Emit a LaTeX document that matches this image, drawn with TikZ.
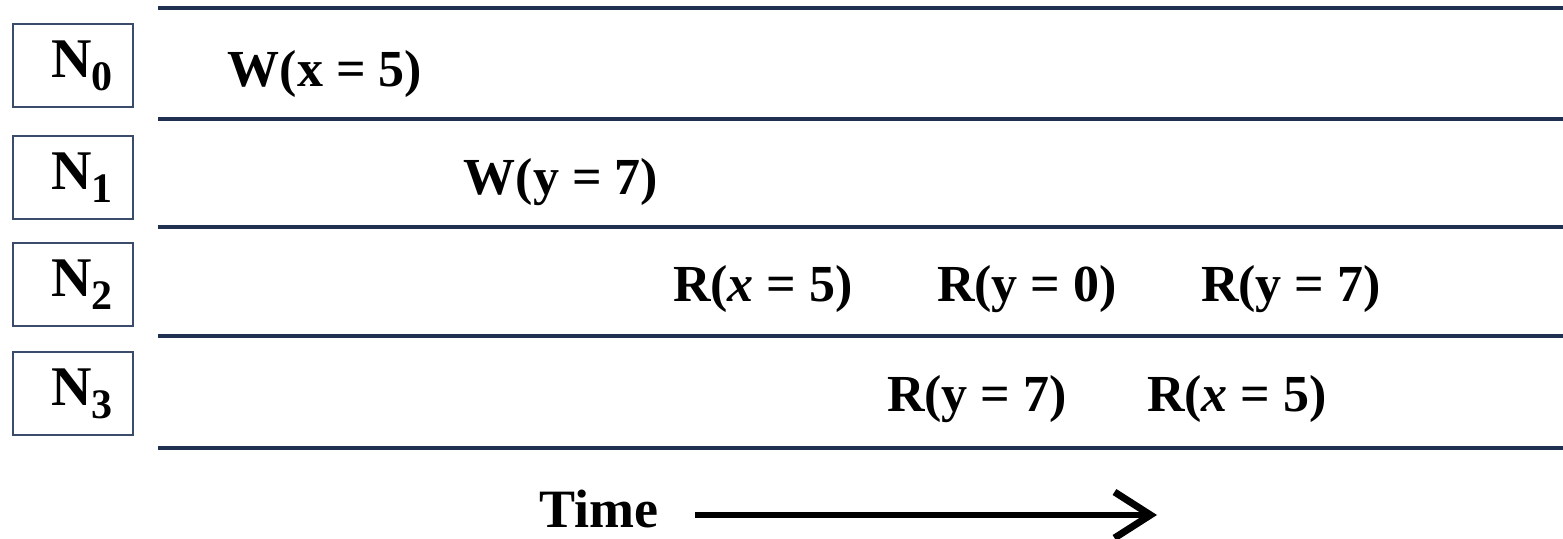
\documentclass[tikz,border=0pt]{standalone}
\usepackage{fontspec}
\setmainfont{Liberation Serif}
\usetikzlibrary{arrows.meta}
\definecolor{navy}{HTML}{1F3050}
\definecolor{boxc}{HTML}{3B4B6B}
\newcommand\nsub[1]{\raisebox{-6.5pt}{\fontsize{21}{21}\selectfont #1}}
\begin{document}
\begin{tikzpicture}[x=0.5pt,y=-0.5pt,
  tl/.style={draw=navy, line width=2pt},
  nbox/.style={draw=boxc, line width=0.8pt, minimum width=60pt, minimum height=41.5pt, inner sep=0pt, font=\bfseries\fontsize{28}{30}\selectfont},
  op/.style={anchor=base, inner sep=0pt, font=\bfseries\fontsize{26}{28}\selectfont}]
\useasboundingbox (0,0) rectangle (1563,539);
% timeline separators
\foreach \i/\y in {0/8,1/119,2/227,3/336,4/448}{
  \coordinate (la\i) at (158,\y);
  \coordinate (lb\i) at (1563,\y);
  \draw[tl] (la\i) -- (lb\i);
}
% node boxes
\node[nbox] (n0) at (73,65.5) {\hspace{9pt}N\nsub{0}};
\node[nbox] (n1) at (73,177.5) {\hspace{9pt}N\nsub{1}};
\node[nbox] (n2) at (73,284.5) {\hspace{9pt}N\nsub{2}};
\node[nbox] (n3) at (73,393.5) {\hspace{9pt}N\nsub{3}};
% operations
\node[op] (w0) at (325,87) {W(x = 5)};
\node[op] (w1) at (561,195) {W(y = 7)};
\node[op] (r21) at (763,302) {R(\textit{x} = 5)};
\node[op] (r22) at (1027,302) {R(y = 0)};
\node[op] (r23) at (1291,302) {R(y = 7)};
\node[op] (r31) at (977,412) {R(y = 7)};
\node[op] (r32) at (1237,412) {R(\textit{x} = 5)};
% time arrow
\node[op, anchor=base east, font=\bfseries\fontsize{27}{28}\selectfont] (time) at (659,527) {Time};
\coordinate (as) at (695,515);
\coordinate (ae) at (1157,515);
\draw[line width=3pt, -{Straight Barb[length=18pt,width=23pt,line width=3.5pt]}] (as) -- (ae);
\end{tikzpicture}
\end{document}
